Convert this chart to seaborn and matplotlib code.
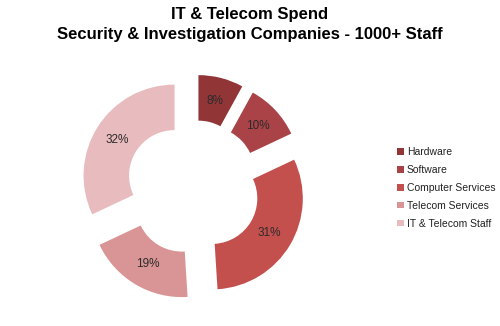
import matplotlib
matplotlib.use("Agg")
import matplotlib.pyplot as plt
import seaborn as sns
from matplotlib.patches import Patch

sns.set_theme(style="white")
plt.rcParams["font.family"] = ["Liberation Sans", "DejaVu Sans"]

categories = ["Hardware", "Software", "Computer Services", "Telecom Services", "IT & Telecom Staff"]
shares = [8, 10, 31, 19, 32]
colors = ["#913537", "#AA4347", "#C4504E", "#D99595", "#E8BBBE"]

W, H = 500, 326
cx, cy, scale = 193, 187.3, 91  # pie centre (px from top-left) and px per radius unit

fig = plt.figure(figsize=(W / 100, H / 100), dpi=100)
fig.patch.set_facecolor("white")

span = 1.2 * scale
ax = fig.add_axes([(cx - span) / W, (H - cy - span) / H, 2 * span / W, 2 * span / H])
wedges, texts, autotexts = ax.pie(
    shares,
    colors=colors,
    startangle=90,
    counterclock=False,
    explode=[0.24] * len(shares),
    radius=1.0,
    wedgeprops=dict(width=0.5, edgecolor="none"),
    autopct=lambda p: f"{p:.0f}%",
    pctdistance=0.74,
    textprops=dict(fontsize=8.5, color="#2b2b2b"),
)
ax.set_xlim(-1.2, 1.2)
ax.set_ylim(-1.2, 1.2)
ax.set_aspect("equal")
ax.axis("off")

fig.text(0.5, 1 - 15 / H, "IT & Telecom Spend", ha="center", va="center",
         fontsize=12, fontweight="bold", color="black")
fig.text(0.5, 1 - 34 / H, "Security & Investigation Companies - 1000+ Staff",
         ha="center", va="center", fontsize=12, fontweight="bold", color="black")

handles = [Patch(facecolor=c, edgecolor="none") for c in colors]
fig.legend(handles, categories, loc="center left", bbox_to_anchor=(388 / W, 138 / H),
           frameon=False, fontsize=7.5, handlelength=0.6, handleheight=0.6,
           handletextpad=0.3, labelspacing=0.75, labelcolor="#222222")

fig.savefig("out.png", dpi=100, facecolor="white")
